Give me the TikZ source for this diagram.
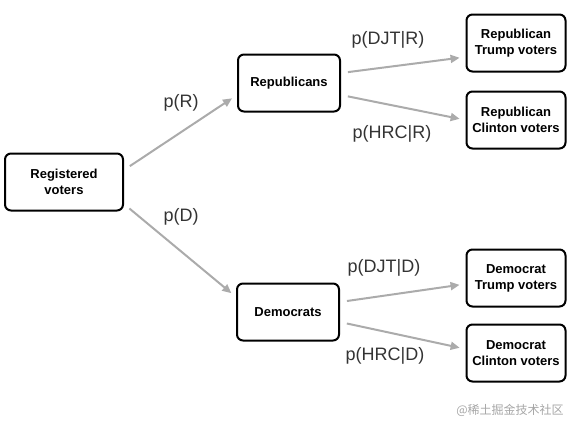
\documentclass[tikz,border=0pt]{standalone}
\usepackage{fontspec}
\setmainfont{Liberation Sans}
\newfontfamily\cjkfont{Noto Sans CJK SC}
\usetikzlibrary{arrows.meta, positioning}

\tikzset{
  box/.style={draw, line width=2pt, rounded corners=6pt, align=center,
    font=\fontsize{13}{16}\selectfont\bfseries, inner sep=0pt},
  branch/.style={-{Triangle[length=9pt, width=8pt]}, line width=2pt, draw=black!33,
    shorten <=7pt, shorten >=6pt},
  prob/.style={font=\fontsize{18}{20}\selectfont, text=black!80}
}

\begin{document}
\begin{tikzpicture}[x=1pt, y=-1pt]
  \useasboundingbox (0,0) rectangle (576,432);

  % root
  \node[box, minimum width=118pt, minimum height=57pt] (reg) at (64,182) {Registered\\voters};

  % parties
  \node[box, minimum width=102pt, minimum height=57pt] (rep) at (289,83) {Republicans};
  \node[box, minimum width=102pt, minimum height=57pt] (dem) at (288,312) {Democrats};

  % leaves
  \node[box, minimum width=99pt, minimum height=57pt] (rept) at (516,43) {Republican\\Trump voters};
  \node[box, minimum width=99pt, minimum height=57pt] (repc) at (516,120) {Republican\\Clinton voters};
  \node[box, minimum width=99pt, minimum height=57pt] (demt) at (516,278) {Democrat\\Trump voters};
  \node[box, minimum width=99pt, minimum height=57pt] (demc) at (516,353) {Democrat\\Clinton voters};

  % branches
  \draw[branch] ([yshift=12pt]reg.east) -- ([yshift=-12pt]rep.west);
  \draw[branch] ([yshift=-22pt]reg.east) -- ([yshift=15pt]dem.west);
  \draw[branch] ([yshift=10pt]rep.east) -- ([yshift=-14pt]rept.west);
  \draw[branch] ([yshift=-12pt]rep.east) -- ([yshift=0pt]repc.west);
  \draw[branch] ([yshift=10pt]dem.east) -- ([yshift=-6pt]demt.west);
  \draw[branch] ([yshift=-10pt]dem.east) -- ([yshift=4pt]demc.west);

  % probabilities
  \node[prob] (pr) at (181,103) {p(R)};
  \node[prob] (pd) at (181,217) {p(D)};
  \node[prob] (pdjtr) at (388,40) {p(DJT|R)};
  \node[prob] (phrcr) at (392,134) {p(HRC|R)};
  \node[prob] (pdjtd) at (384,268) {p(DJT|D)};
  \node[prob] (phrcd) at (385,356) {p(HRC|D)};

  \node[font=\cjkfont\fontsize{12}{14}\selectfont, text=black!35] (mark) at (510,410) {@稀土掘金技术社区};
\end{tikzpicture}
\end{document}
